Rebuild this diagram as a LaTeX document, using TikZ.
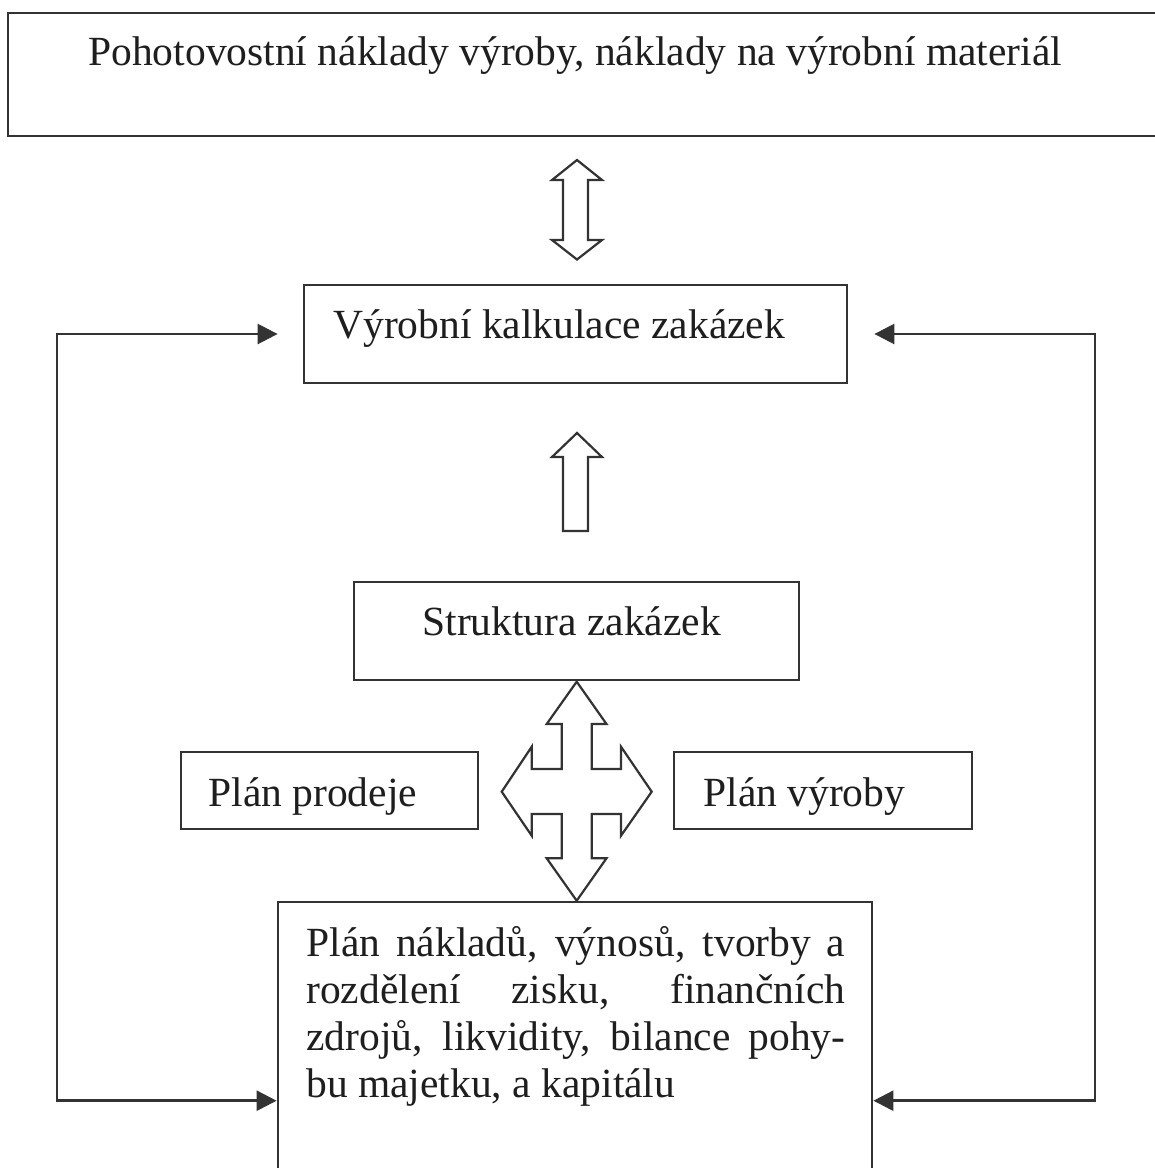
\documentclass[tikz,border=0pt]{standalone}
\usepackage{fontspec}
\setmainfont{Liberation Serif}
\usetikzlibrary{arrows.meta}
\definecolor{ink}{HTML}{333333}
\definecolor{textink}{HTML}{1E1E1E}
\begin{document}
\begin{tikzpicture}[x=0.5pt,y=-0.5pt,
  box/.style={draw=ink,line width=1.4pt,rectangle,inner sep=0pt},
  lbl/.style={anchor=base west,inner sep=0pt,text=textink,
    font=\fontsize{20.75pt}{23.5pt}\selectfont},
  hollow/.style={draw=ink,line width=1.1pt,line join=miter,fill=white},
  loop/.style={draw=ink,line width=1.3pt,
    {Triangle[length=10pt,width=10pt]}-{Triangle[length=10pt,width=10pt]}}]

% page frame
\useasboundingbox (0,0) rectangle (1155,1168);
\fill[white] (0,0) rectangle (1155,1168);
\clip (0,0) rectangle (1155,1168);

% boxes
\node[box,minimum width=583.5pt,minimum height=61.5pt] (top) at (591.5,74.5) {};
\node[box,minimum width=271.5pt,minimum height=49pt] (kalk) at (575.5,334) {};
\node[box,minimum width=222.5pt,minimum height=49pt] (strukt) at (576.5,631) {};
\node[box,minimum width=148.5pt,minimum height=38.5pt] (prodej) at (329.5,790.5) {};
\node[box,minimum width=149pt,minimum height=38.5pt] (vyroba) at (823,790.5) {};
\node[box,minimum width=297pt,minimum height=144pt] (plan) at (575,1046) {};

% labels
\node[lbl] (toptext) at (88,65) {Pohotovostní náklady výroby, náklady na výrobní materiál};
\node[lbl] (kalktext) at (333,338) {Výrobní kalkulace zakázek};
\node[lbl] (strukttext) at (422,635) {Struktura zakázek};
\node[lbl] (prodejtext) at (208,806) {Plán prodeje};
\node[lbl] (vyrobatext) at (703,806) {Plán výroby};
\node[lbl] (plantext) at (306,956) {\parbox[t]{269.5pt}{\raggedright
  \makebox[\linewidth][s]{Plán nákladů, výnosů, tvorby a}\\
  \makebox[\linewidth][s]{rozdělení zisku, finančních}\\
  \makebox[\linewidth][s]{zdrojů, likvidity, bilance pohy-}\\
  bu majetku, a kapitálu}};

% hollow double arrow between the top box and the costing box
\draw[hollow] (577,160) -- (602,180) -- (588,180) -- (588,240) -- (602,240)
  -- (577,259.5) -- (552,240) -- (563,240) -- (563,180) -- (552,180) -- cycle;

% hollow arrow up to the costing box
\draw[hollow] (577,433) -- (602,457) -- (588,457) -- (588,531) -- (563,531)
  -- (563,457) -- (552,457) -- cycle;

% hollow four-way arrow
\draw[hollow] (576.7,681.7) -- (606.5,724) -- (591.7,724) -- (591.7,769)
  -- (621,769) -- (621,746.7) -- (651.7,791.7) -- (621,835.7) -- (621,814)
  -- (591.7,814) -- (591.7,858.3) -- (606.5,858.3) -- (576.7,900.7)
  -- (546.7,858.3) -- (561.7,858.3) -- (561.7,814) -- (531.7,814)
  -- (531.7,835.7) -- (501.7,791.7) -- (531.7,746.7) -- (531.7,769)
  -- (561.7,769) -- (561.7,724) -- (546.7,724) -- cycle;

% feedback loops on both sides
\coordinate (lx) at (57,0);
\coordinate (rx) at (1095,0);
\coordinate (low) at (0,1100.7);
\draw[loop] ([xshift=-12.5pt]kalk.west) -- (lx |- kalk.west) -- (lx |- low) -- (plan.west |- low);
\draw[loop] ([xshift=13pt]kalk.east) -- (rx |- kalk.east) -- (rx |- low) -- (plan.east |- low);
\end{tikzpicture}
\end{document}
